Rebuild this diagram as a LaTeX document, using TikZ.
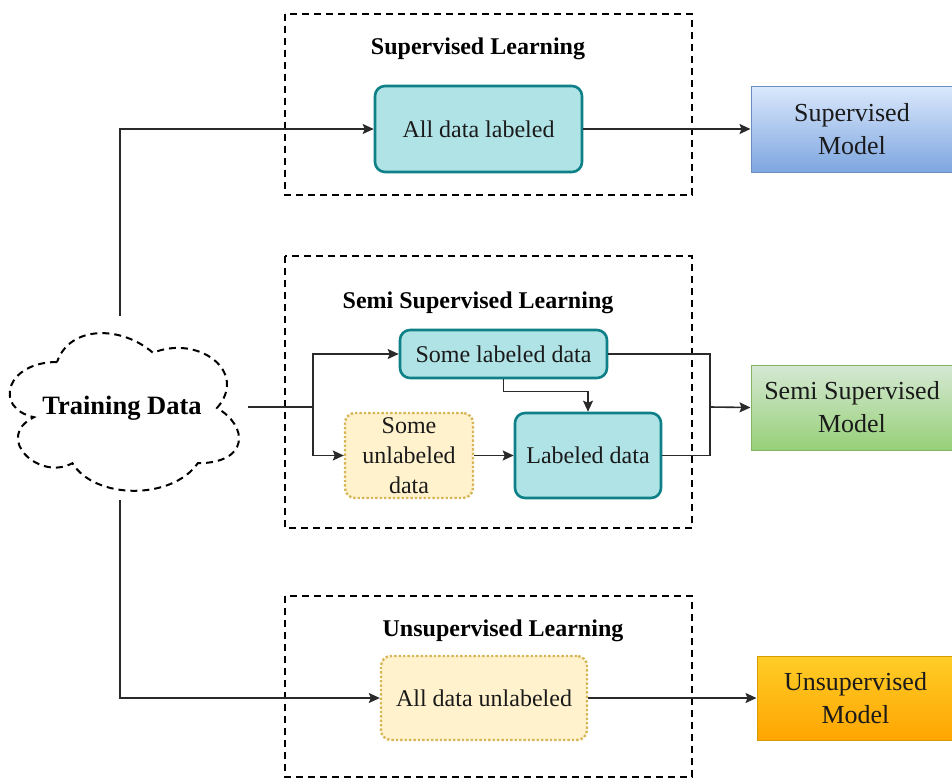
\documentclass[tikz,border=0pt]{standalone}
\usepackage{fontspec}
\setmainfont{Liberation Serif}
\usetikzlibrary{arrows.meta,calc}
\definecolor{tealfill}{HTML}{B0E3E6}
\definecolor{tealline}{HTML}{0E8088}
\definecolor{yelfill}{HTML}{FFF2CC}
\definecolor{yelline}{HTML}{D6B656}
\definecolor{bluetop}{HTML}{DAE8FC}
\definecolor{bluebot}{HTML}{7EA6E0}
\definecolor{blueline}{HTML}{6C8EBF}
\definecolor{greentop}{HTML}{D5E8D4}
\definecolor{greenbot}{HTML}{97D077}
\definecolor{greenline}{HTML}{82B366}
\definecolor{orgtop}{HTML}{FFCD28}
\definecolor{orgbot}{HTML}{FFA500}
\definecolor{orgline}{HTML}{D79B00}
\definecolor{txt}{HTML}{1A1A1A}
\definecolor{conncol}{HTML}{2A2A2A}
\tikzset{
  group/.style={draw=black, line width=2pt, dash pattern=on 7pt off 5pt},
  title/.style={font=\fontsize{24}{28}\selectfont\bfseries, text=black},
  tealbox/.style={draw=tealline, fill=tealfill, line width=2.6pt, rounded corners=10pt, inner sep=0pt, text=txt, font=\fontsize{24}{30}\selectfont, align=center},
  yelbox/.style={draw=yelline, fill=yelfill, line width=2.4pt, dotted, rounded corners=10pt, inner sep=0pt, text=txt, font=\fontsize{24}{30}\selectfont, align=center},
  modelbox/.style={line width=1pt, inner sep=0pt, text=txt, font=\fontsize{26}{33}\selectfont, align=center},
  conn/.style={draw=conncol, line width=1.6pt},
  arr/.style={conn, -{Stealth[length=11pt,width=10pt,inset=2pt]}},
}
\begin{document}
\begin{tikzpicture}[x=1pt,y=-1pt]
\useasboundingbox (0,0) rectangle (952,779);
% groups
\draw[group] (285,14) rectangle (692,195);
\draw[group] (285,256) rectangle (692,528);
\draw[group] (285,596) rectangle (692,777);
\node[title] (t1) at (478,49) {Supervised Learning};
\node[title] (t2) at (478,303) {Semi Supervised Learning};
\node[title] (t3) at (503,631) {Unsupervised Learning};
% cloud shape
\begin{scope}[shift={(-7,316)}, x=256pt, y=-184pt]
\draw[black, line width=2pt, dash pattern=on 7pt off 5pt]
  (0.25,0.25) .. controls (0.05,0.25) and (0,0.5) .. (0.16,0.55)
  .. controls (0,0.66) and (0.18,0.9) .. (0.31,0.8)
  .. controls (0.4,1) and (0.7,1) .. (0.8,0.8)
  .. controls (1,0.8) and (1,0.6) .. (0.875,0.5)
  .. controls (1,0.3) and (0.8,0.1) .. (0.625,0.2)
  .. controls (0.5,0.05) and (0.3,0.05) .. cycle;
\end{scope}
\node[font=\fontsize{26.5}{30}\selectfont\bfseries, text=black] (cloud) at (122,408) {Training Data};
% boxes
\node[tealbox, minimum width=207pt, minimum height=86pt] (adl) at (478.5,129) {All data labeled};
\node[tealbox, minimum width=207pt, minimum height=48pt] (sld) at (503.5,354) {Some labeled data};
\node[yelbox, minimum width=128pt, minimum height=85pt] (sud) at (409,455.5) {Some\\unlabeled\\data};
\node[tealbox, minimum width=146pt, minimum height=85pt] (ld) at (588,455.5) {Labeled data};
\node[yelbox, minimum width=206pt, minimum height=84pt] (adu) at (484,698) {All data unlabeled};
% models
\node[modelbox, draw=blueline, top color=bluetop, bottom color=bluebot, minimum width=202pt, minimum height=86pt] (sm) at (852,129) {Supervised\\Model};
\node[modelbox, draw=greenline, top color=greentop, bottom color=greenbot, minimum width=202pt, minimum height=85pt] (ssm) at (852,407.5) {Semi Supervised\\Model};
\node[modelbox, draw=orgline, top color=orgtop, bottom color=orgbot, minimum width=197pt, minimum height=84pt] (um) at (855.5,698) {Unsupervised\\Model};
% coordinates
\coordinate (c1) at (120,316);
\coordinate (c2) at (248,407);
\coordinate (c3) at (120,500);
\coordinate (split) at (313,407);
\coordinate (join) at (710,407);
% connectors
\draw[arr] (c1) |- (adl.west);
\draw[arr] (adl.east) -- (sm.west);
\draw[conn] (c2) -- (split);
\draw[arr] (split) |- (sld.west);
\draw[arr] (split) |- (sud.west);
\draw[arr] (sld.south) -- ++(0,12) -| (ld.north);
\draw[arr] (sud.east) -- (ld.west);
\draw[conn] (sld.east) -| (join);
\draw[conn] (ld.east) -| (join);
\draw[arr] (join) -- (ssm.west);
\draw[arr] (c3) |- (adu.west);
\draw[arr] (adu.east) -- (um.west);
\end{tikzpicture}
\end{document}
